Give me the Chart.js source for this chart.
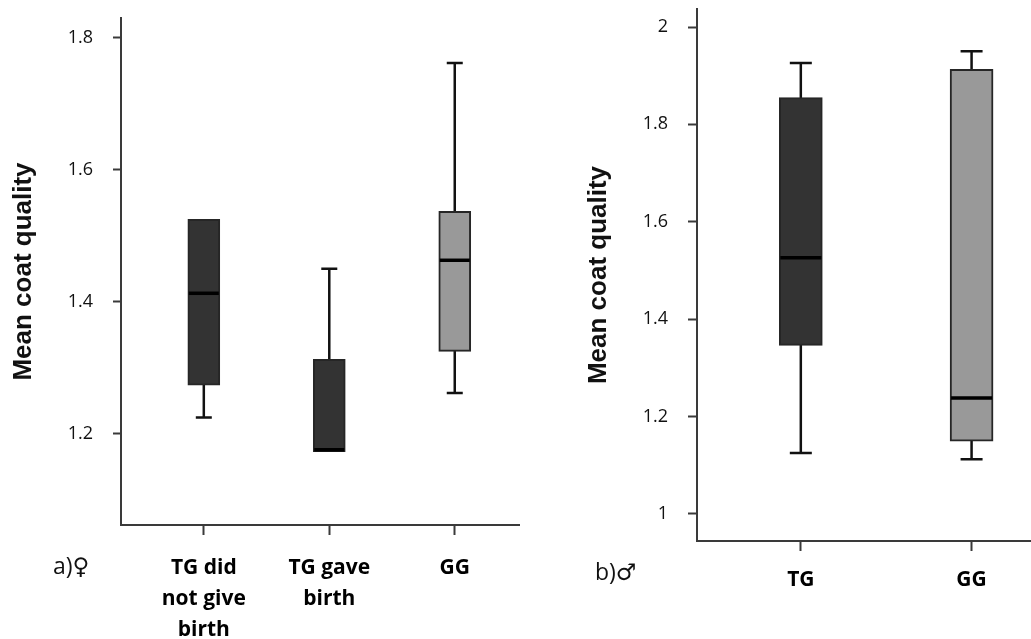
<!DOCTYPE html>
<html>
<head>
<meta charset="utf-8">
<script src="https://cdn.jsdelivr.net/npm/chart.js@4.4.1/dist/chart.umd.min.js"></script>
<style>
  body { margin: 0; background: #fff; }
  .panel { position: absolute; top: 0; }
  .tag { position: absolute; font: 23px "Open Sans", "DejaVu Sans", sans-serif; line-height: 1; color: #111; white-space: nowrap; }
</style>
</head>
<body>
<div class="panel" style="left:0"><canvas id="female" width="520" height="639"></canvas></div>
<div class="panel" style="left:520px"><canvas id="male" width="511" height="639"></canvas></div>
<div class="tag" style="left:53px;top:554px">a)♀</div>
<div class="tag" style="left:595px;top:560px">b)♂</div>
<script>
// a) females
const femaleGroups = [['TG did', 'not give', 'birth'], ['TG gave', 'birth'], 'GG']
const femaleLow = [1.225, 1.173, 1.262]
const femaleQ1 = [1.274, 1.173, 1.325]
const femaleMedian = [1.413, 1.176, 1.463]
const femaleQ3 = [1.525, 1.313, 1.537]
const femaleHigh = [1.525, 1.450, 1.762]
const femaleTicks = [1.2, 1.4, 1.6, 1.8]
const femaleTickLabels = ['1.2', '1.4', '1.6', '1.8']

// b) males
const maleGroups = ['TG', 'GG']
const maleLow = [1.125, 1.112]
const maleQ1 = [1.346, 1.149]
const maleMedian = [1.526, 1.238]
const maleQ3 = [1.855, 1.913]
const maleHigh = [1.926, 1.950]
const maleTicks = [1, 1.2, 1.4, 1.6, 1.8, 2]
const maleTickLabels = ['1', '1.2', '1.4', '1.6', '1.8', '2']

const TG_COLOR = '#333333'
const GG_COLOR = '#999999'
const AXIS_COLOR = '#3a3a3a'

// whiskers go behind the boxes, medians on top
const boxWhiskers = {
  id: 'boxWhiskers',
  beforeDatasetsDraw (chart) {
    const { ctx, scales: { x, y } } = chart
    const ds = chart.data.datasets[0]
    const half = ds.capWidth / 2
    ctx.save()
    ctx.strokeStyle = '#111'
    ctx.lineWidth = 2.5
    ds.data.forEach((d, i) => {
      const px = x.getPixelForValue(d.x)
      const yLow = y.getPixelForValue(ds.low[i])
      const yHigh = y.getPixelForValue(ds.high[i])
      ctx.beginPath()
      ctx.moveTo(px, yLow)
      ctx.lineTo(px, yHigh)
      if (ds.low[i] < d.y[0]) {
        ctx.moveTo(px - half, yLow)
        ctx.lineTo(px + half, yLow)
      }
      if (ds.high[i] > d.y[1]) {
        ctx.moveTo(px - half, yHigh)
        ctx.lineTo(px + half, yHigh)
      }
      ctx.stroke()
    })
    ctx.restore()
  },
  afterDatasetsDraw (chart) {
    const { ctx, scales: { x, y } } = chart
    const ds = chart.data.datasets[0]
    const half = ds.barThickness / 2 - 1
    ctx.save()
    ctx.strokeStyle = '#000'
    ctx.lineWidth = 3.5
    ds.data.forEach((d, i) => {
      const px = x.getPixelForValue(d.x)
      const py = y.getPixelForValue(ds.median[i])
      ctx.beginPath()
      ctx.moveTo(px - half, py)
      ctx.lineTo(px + half, py)
      ctx.stroke()
    })
    ctx.restore()
  }
}

function noPadding (s) {
  s.paddingTop = 0
  s.paddingBottom = 0
  s.paddingLeft = 0
  s.paddingRight = 0
}

function boxChart (id, groups, low, q1, median, q3, high, colors, ticks, tickLabels, lay) {
  return new Chart(document.getElementById(id), {
    type: 'bar',
    data: {
      datasets: [{
        data: groups.map((g, i) => ({ x: i, y: [q1[i], q3[i]] })),
        low,
        median,
        high,
        capWidth: lay.capWidth,
        backgroundColor: colors,
        borderColor: '#262626',
        borderWidth: 2,
        borderSkipped: false,
        barThickness: lay.boxWidth
      }]
    },
    options: {
      responsive: false,
      animation: false,
      layout: { padding: { top: lay.top, left: 0, right: 0, bottom: 0 } },
      plugins: { legend: { display: false }, tooltip: { enabled: false } },
      scales: {
        x: {
          type: 'linear',
          offset: false,
          min: lay.xMin,
          max: lay.xMax,
          afterBuildTicks: s => { s.ticks = groups.map((g, i) => ({ value: i })) },
          afterFit: s => { s.height = lay.xHeight; noPadding(s) },
          border: { display: true, color: AXIS_COLOR, width: 2 },
          grid: { offset: false, drawOnChartArea: false, drawTicks: true, tickLength: 10, tickWidth: 2, tickColor: AXIS_COLOR },
          ticks: {
            padding: lay.labelPad,
            color: '#000',
            font: { family: '"Open Sans", sans-serif', size: 21, weight: 'bold', lineHeight: 1.48 },
            callback: v => groups[v]
          }
        },
        y: {
          min: lay.yMin,
          max: lay.yMax,
          afterBuildTicks: s => { s.ticks = ticks.map(v => ({ value: v })) },
          afterFit: s => { s.width = lay.yWidth; noPadding(s) },
          border: { display: true, color: AXIS_COLOR, width: 2 },
          grid: { drawOnChartArea: false, drawTicks: true, tickLength: lay.tickLen, tickWidth: 2, tickColor: AXIS_COLOR },
          ticks: {
            padding: 20,
            color: '#111',
            font: { family: '"Open Sans", sans-serif', size: 18 },
            callback: v => tickLabels[ticks.indexOf(v)]
          },
          title: {
            display: true,
            text: 'Mean coat quality',
            color: '#111',
            padding: { top: lay.titlePad, bottom: 0 },
            font: { family: '"Liberation Sans", Arial, sans-serif', size: 26, weight: 'bold' }
          }
        }
      }
    },
    plugins: [boxWhiskers]
  })
}

boxChart('female', femaleGroups, femaleLow, femaleQ1, femaleMedian, femaleQ3, femaleHigh,
  [TG_COLOR, TG_COLOR, GG_COLOR], femaleTicks, femaleTickLabels,
  { top: 18, yWidth: 121, xHeight: 114, xMin: -0.66, xMax: 2.52, yMin: 1.062, yMax: 1.83,
    boxWidth: 32, capWidth: 16, tickLen: 8, titlePad: 8, labelPad: 17 })

boxChart('male', maleGroups, maleLow, maleQ1, maleMedian, maleQ3, maleHigh,
  [TG_COLOR, GG_COLOR], maleTicks, maleTickLabels,
  { top: 9, yWidth: 177, xHeight: 98, xMin: -0.608, xMax: 1.348, yMin: 0.944, yMax: 2.037,
    boxWidth: 43, capWidth: 22, tickLen: 9, titlePad: 63, labelPad: 13 })
</script>
</body>
</html>
